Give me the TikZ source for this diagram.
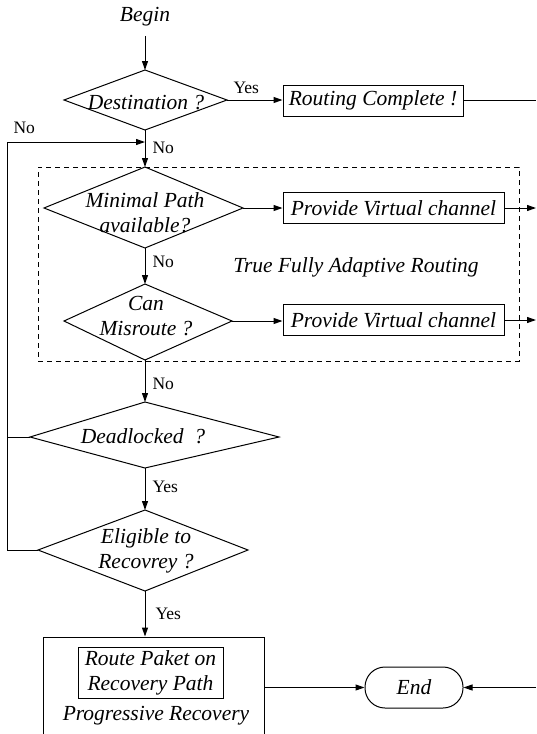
\documentclass[tikz,border=0pt]{standalone}
\usepackage{fontspec}
\setmainfont{LiberationSerif-Regular.ttf}[ItalicFont=LiberationSerif-Italic.ttf,BoldFont=LiberationSerif-Bold.ttf]
\usetikzlibrary{arrows.meta}
\begin{document}
\begin{tikzpicture}[x=1pt,y=-1pt,line width=1pt,
  txt/.style={font=\fontsize{21.5}{25}\selectfont\itshape,align=center,inner sep=0pt},
  ans/.style={font=\fontsize{17.5}{20}\selectfont,inner sep=0pt,anchor=west},
  procbox/.style={draw,rectangle,inner sep=0pt,align=center,font=\fontsize{21.5}{25}\selectfont\itshape},
  arr/.style={-{Triangle[length=9pt,width=6pt]}},
  frame/.style={draw,dashed,dash pattern=on 5pt off 4pt,line width=0.8pt,inner sep=0pt}]
\useasboundingbox (0,0) rectangle (536,734);
\clip (0,0) rectangle (536,734);

% dashed frame
\node[frame,minimum width=481pt,minimum height=194pt] (fr) at (278.5,264) {};
\node[txt] (tfa) at (356,267) {True Fully Adaptive Routing};

% Begin
\node[txt] (begin) at (145,17) {Begin};

% Destination ?
\coordinate (dT) at (145,70);  \coordinate (dL) at (64,100);
\coordinate (dR) at (227,100); \coordinate (dB) at (145,130);
\draw (dT)--(dR)--(dB)--(dL)--cycle;
\node[txt] (dtx) at (146,103) {Destination ?};

% Minimal Path
\coordinate (mT) at (145,167); \coordinate (mL) at (44,208);
\coordinate (mR) at (243,208); \coordinate (mB) at (145,248);
\draw (mT)--(mR)--(mB)--(mL)--cycle;
\node[txt] (mtx) at (145,213) {Minimal Path\\available?};

% Can Misroute
\coordinate (cT) at (145,284); \coordinate (cL) at (64,321);
\coordinate (cR) at (232,321); \coordinate (cB) at (145,360);
\draw (cT)--(cR)--(cB)--(cL)--cycle;
\node[txt] (ctx) at (146,316) {Can\\Misroute ?};

% Deadlocked
\coordinate (kT) at (145,402); \coordinate (kL) at (30,437);
\coordinate (kR) at (279,437); \coordinate (kB) at (145,468);
\draw (kT)--(kR)--(kB)--(kL)--cycle;
\node[txt] (ktx) at (143,436) {Deadlocked\ \ ?};

% Eligible
\coordinate (eT) at (145,510); \coordinate (eL) at (38,550);
\coordinate (eR) at (248,550); \coordinate (eB) at (145,591);
\draw (eT)--(eR)--(eB)--(eL)--cycle;
\node[txt] (etx) at (146,551) {Eligible to\\Recovrey ?};

% boxes
\node[procbox,minimum width=180pt,minimum height=31pt] (rc) at (373,100.5) {Routing Complete !};
\node[procbox,minimum width=221pt,minimum height=31pt] (pv1) at (393.5,208) {Provide Virtual channel};
\node[procbox,minimum width=221pt,minimum height=31pt] (pv2) at (393.5,320) {Provide Virtual channel};

\node[draw,inner sep=0pt,minimum width=221pt,minimum height=99pt] (prog) at (153.5,686.5) {};
\node[procbox,minimum width=145pt,minimum height=51pt] (route) at (150.5,672.5) {Route Paket on\\Recovery Path};
\node[txt] (progtx) at (156,716) {Progressive Recovery};

\node[draw,txt,rounded corners=20pt,minimum width=98pt,minimum height=41pt] (end) at (414,687.5) {End};

% free ends
\coordinate (join) at (145,142);
\coordinate (rcout) at (536,100.5);
\coordinate (pv1out) at (536,208);
\coordinate (pv2out) at (536,320);
\coordinate (endin) at (536,687.5);

% connectors
\draw[arr] ([yshift=-9pt]begin.south) -- (dT);
\draw[arr] (dR) -- (dR -| rc.west);
\node[ans] at (233,88) {Yes};
\draw (rc.east) -- (rcout);
\draw[arr] (dB) -- (mT);
\node[ans] at (152,148) {No};
\draw[arr] (eL) -- (7,550) -- (7,142) -- (join);
\draw (kL) -- (7,437);
\node[ans] at (13,128) {No};
\draw[arr] (mR) -- (mR -| pv1.west);
\draw[arr] (pv1.east) -- (pv1out);
\draw[arr] (mB) -- (cT);
\node[ans] at (152,262) {No};
\draw[arr] (cR) -- (cR -| pv2.west);
\draw[arr] (pv2.east) -- (pv2out);
\draw[arr] (cB) -- (kT);
\node[ans] at (152,384) {No};
\draw[arr] (kB) -- (eT);
\node[ans] at (152,487) {Yes};
\draw[arr] (eB) -- (eB |- prog.north);
\node[ans] at (155,614) {Yes};
\draw[arr] (prog.east |- end) -- (end.west);
\draw[arr] (endin) -- (end.east);
\end{tikzpicture}
\end{document}
